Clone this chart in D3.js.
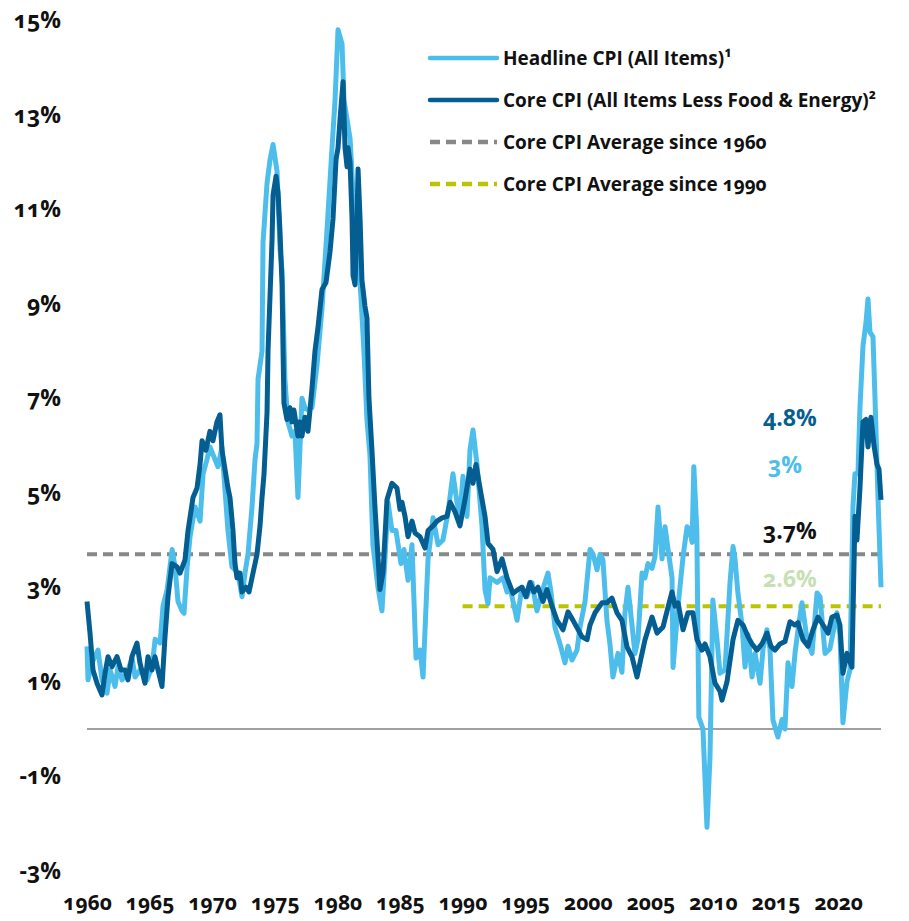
<!DOCTYPE html>
<html>
<head>
<meta charset="utf-8">
<script src="https://cdn.jsdelivr.net/npm/d3@7"></script>
<style>
  body { margin: 0; background: #fff; }
  svg text { font-family: "Open Sans", Lato, sans-serif; font-weight: bold; font-variant-numeric: oldstyle-nums; font-feature-settings: "onum" 1; }
</style>
</head>
<body>
<svg id="chart" width="909" height="921"></svg>
<script>
// Year-over-year CPI, [decimal year, percent]
const headline = [
  [1960.0, 1.75], [1960.08, 1.04], [1960.4, 1.4], [1960.88, 1.67], [1961.2, 1.04], [1961.6, 0.76],
  [1961.84, 1.25], [1962.24, 0.9], [1962.48, 1.32], [1962.8, 1.04], [1963.2, 1.18], [1963.6, 1.5],
  [1963.84, 1.1], [1964.24, 1.25], [1964.8, 1.04], [1965.2, 1.32], [1965.44, 1.9], [1965.84, 1.82],
  [1966.07, 2.6], [1966.4, 2.95], [1966.8, 3.8], [1967.03, 3.43], [1967.27, 2.7], [1967.59, 2.5],
  [1967.75, 2.45], [1967.99, 3.4], [1968.23, 4.07], [1968.63, 4.7], [1969.03, 4.4], [1969.27, 5.4],
  [1969.58, 5.7], [1969.82, 5.97], [1970.14, 5.76], [1970.46, 5.55], [1970.78, 5.97], [1971.02, 5.06],
  [1971.26, 4.2], [1971.58, 3.43], [1971.82, 3.37], [1972.06, 3.3], [1972.38, 2.8], [1972.62, 3.3],
  [1972.86, 3.7], [1973.18, 4.7], [1973.42, 5.7], [1973.58, 6.05], [1973.66, 7.4], [1973.98, 8.0],
  [1974.06, 10.3], [1974.38, 11.55], [1974.62, 12.05], [1974.86, 12.37], [1975.18, 11.8], [1975.42, 10.15],
  [1975.58, 9.7], [1975.81, 7.4], [1976.05, 6.5], [1976.37, 6.2], [1976.61, 6.3], [1976.85, 4.9],
  [1977.17, 7.0], [1977.41, 6.8], [1977.65, 6.75], [1977.97, 6.8], [1978.37, 7.7], [1978.77, 8.9],
  [1979.01, 9.9], [1979.25, 10.9], [1979.57, 12.3], [1979.81, 13.3], [1980.05, 14.8], [1980.37, 14.5],
  [1980.53, 13.3], [1980.77, 12.9], [1981.01, 12.5], [1981.25, 11.35], [1981.57, 10.4], [1981.88, 9.15],
  [1982.12, 8.0], [1982.36, 6.55], [1982.6, 5.8], [1982.84, 3.9], [1983.24, 3.0], [1983.56, 2.5],
  [1983.8, 3.6], [1984.04, 4.8], [1984.36, 4.2], [1984.68, 4.2], [1985.08, 3.5], [1985.32, 3.8],
  [1985.64, 3.15], [1985.96, 3.9], [1986.28, 1.5], [1986.6, 1.67], [1986.84, 1.1], [1987.24, 3.6],
  [1987.64, 4.47], [1988.04, 3.9], [1988.43, 4.0], [1988.83, 4.57], [1989.23, 5.4], [1989.55, 4.8],
  [1989.79, 4.5], [1990.03, 5.35], [1990.35, 4.5], [1990.59, 5.9], [1990.83, 6.33], [1991.15, 5.6],
  [1991.55, 4.3], [1991.79, 2.95], [1992.03, 2.65], [1992.19, 3.2], [1992.75, 3.1], [1993.23, 3.2],
  [1993.55, 2.9], [1993.79, 3.0], [1994.35, 2.3], [1994.74, 3.0], [1995.14, 2.8], [1995.54, 3.1],
  [1995.94, 2.5], [1996.34, 2.9], [1996.82, 3.3], [1997.06, 2.9], [1997.38, 2.15], [1997.78, 1.8],
  [1998.18, 1.4], [1998.42, 1.75], [1998.74, 1.46], [1999.14, 1.67], [1999.38, 2.16], [1999.78, 2.7],
  [2000.18, 3.8], [2000.42, 3.7], [2000.74, 3.37], [2000.98, 3.7], [2001.21, 3.58], [2001.53, 2.3],
  [2001.77, 1.8], [2002.01, 1.1], [2002.41, 1.6], [2002.73, 1.2], [2002.97, 2.46], [2003.21, 3.0],
  [2003.53, 2.2], [2003.77, 1.6], [2004.01, 1.9], [2004.33, 3.3], [2004.57, 3.2], [2004.81, 3.5],
  [2005.13, 3.4], [2005.37, 3.65], [2005.61, 4.7], [2005.93, 3.6], [2006.17, 4.28], [2006.41, 3.8],
  [2006.73, 3.2], [2006.81, 1.3], [2007.21, 2.6], [2007.61, 3.65], [2007.93, 4.28], [2008.15, 4.2],
  [2008.33, 3.95], [2008.47, 5.55], [2008.71, 4.2], [2008.87, 0.25], [2009.2, 0.0], [2009.52, -2.08],
  [2009.76, -0.6], [2009.99, 2.73], [2010.32, 1.9], [2010.56, 1.18], [2010.96, 1.25], [2011.36, 3.1],
  [2011.6, 3.86], [2011.76, 3.6], [2011.99, 2.88], [2012.32, 2.2], [2012.56, 1.31], [2012.8, 2.0],
  [2013.12, 1.1], [2013.36, 1.6], [2013.76, 0.97], [2014.0, 1.7], [2014.31, 2.1], [2014.55, 1.7],
  [2014.79, 0.19], [2015.19, -0.17], [2015.51, 0.2], [2015.75, 0.0], [2015.99, 1.4], [2016.31, 0.9],
  [2016.55, 1.6], [2016.79, 2.1], [2017.11, 2.67], [2017.51, 1.9], [2017.91, 1.6], [2018.31, 2.88],
  [2018.55, 2.8], [2018.95, 1.6], [2019.34, 1.7], [2019.9, 2.46], [2020.14, 2.0], [2020.38, 0.13],
  [2020.7, 1.0], [2020.94, 1.25], [2021.18, 4.7], [2021.34, 5.4], [2021.58, 5.4], [2021.74, 6.8],
  [2021.98, 8.1], [2022.22, 8.6], [2022.38, 9.1], [2022.54, 8.4], [2022.78, 8.3], [2022.94, 7.0],
  [2023.18, 4.9], [2023.42, 3.0]
];

const core = [
  [1960.0, 2.7], [1960.24, 2.03], [1960.48, 1.25], [1960.8, 0.97], [1961.2, 0.72], [1961.44, 1.18],
  [1961.68, 1.53], [1962.0, 1.32], [1962.4, 1.53], [1962.72, 1.25], [1963.04, 1.25], [1963.27, 1.04],
  [1963.59, 1.53], [1963.99, 1.82], [1964.23, 1.4], [1964.63, 0.97], [1964.87, 1.53], [1965.19, 1.25],
  [1965.43, 1.53], [1965.67, 1.25], [1965.99, 0.9], [1966.23, 1.95], [1966.47, 2.8], [1966.79, 3.5],
  [1967.19, 3.43], [1967.43, 3.3], [1967.83, 3.58], [1968.07, 4.2], [1968.47, 4.9], [1968.79, 5.1],
  [1969.03, 5.6], [1969.19, 6.1], [1969.5, 5.9], [1969.82, 6.3], [1970.06, 6.1], [1970.38, 6.5],
  [1970.62, 6.65], [1970.78, 5.9], [1971.26, 5.1], [1971.42, 4.9], [1971.66, 4.2], [1971.82, 3.5],
  [1971.98, 3.2], [1972.22, 3.3], [1972.38, 2.9], [1972.7, 3.0], [1972.94, 2.9], [1973.18, 3.2],
  [1973.58, 3.7], [1973.82, 4.3], [1973.98, 4.9], [1974.14, 5.4], [1974.38, 6.7], [1974.46, 8.0],
  [1974.78, 10.35], [1974.86, 11.3], [1975.1, 11.7], [1975.26, 11.35], [1975.42, 10.5], [1975.58, 9.4],
  [1975.66, 8.0], [1975.73, 6.9], [1975.97, 6.55], [1976.21, 6.8], [1976.37, 6.5], [1976.53, 6.75],
  [1976.85, 6.2], [1977.01, 6.5], [1977.17, 6.2], [1977.41, 6.6], [1977.65, 6.3], [1977.97, 7.2],
  [1978.21, 8.0], [1978.45, 8.5], [1978.77, 9.3], [1979.09, 9.45], [1979.41, 10.1], [1979.65, 10.8],
  [1979.89, 12.05], [1980.05, 12.3], [1980.21, 12.9], [1980.45, 13.7], [1980.61, 12.3], [1980.77, 11.9],
  [1980.85, 12.3], [1981.01, 12.0], [1981.17, 10.8], [1981.25, 9.6], [1981.41, 9.4], [1981.57, 10.8],
  [1981.65, 11.85], [1981.81, 10.8], [1981.96, 9.5], [1982.2, 8.95], [1982.36, 8.7], [1982.52, 7.0],
  [1982.76, 5.9], [1983.0, 4.7], [1983.4, 2.95], [1983.64, 3.3], [1983.96, 4.85], [1984.36, 5.2],
  [1984.76, 5.1], [1985.0, 4.65], [1985.16, 4.8], [1985.4, 4.5], [1985.64, 4.07], [1985.96, 4.4],
  [1986.2, 4.15], [1986.6, 4.07], [1987.0, 3.83], [1987.24, 4.2], [1987.64, 4.3], [1987.96, 4.4],
  [1988.36, 4.47], [1988.75, 4.5], [1989.0, 4.8], [1989.39, 4.6], [1989.79, 4.3], [1990.19, 4.85],
  [1990.59, 5.5], [1990.83, 5.2], [1991.07, 5.6], [1991.39, 5.1], [1991.79, 4.5], [1992.03, 3.93],
  [1992.43, 3.8], [1992.75, 3.33], [1993.15, 3.6], [1993.55, 3.2], [1994.03, 2.87], [1994.42, 2.95],
  [1994.74, 3.0], [1995.06, 2.8], [1995.38, 3.1], [1995.7, 2.9], [1996.02, 3.0], [1996.42, 2.7],
  [1996.74, 2.95], [1997.14, 2.6], [1997.54, 2.3], [1998.02, 2.1], [1998.42, 2.48], [1998.82, 2.3],
  [1999.54, 1.95], [1999.94, 1.89], [2000.18, 2.2], [2000.58, 2.46], [2001.13, 2.67], [2001.53, 2.67],
  [2001.93, 2.77], [2002.33, 2.46], [2002.73, 2.3], [2003.13, 1.74], [2003.53, 1.53], [2003.93, 1.1],
  [2004.25, 1.5], [2004.57, 1.89], [2005.13, 2.37], [2005.53, 2.03], [2006.01, 2.16], [2006.41, 2.58],
  [2006.73, 2.9], [2006.97, 2.6], [2007.21, 2.67], [2007.61, 2.1], [2008.0, 2.46], [2008.4, 2.46],
  [2008.72, 1.89], [2009.12, 1.67], [2009.36, 1.8], [2009.76, 1.53], [2010.16, 0.97], [2010.56, 0.8],
  [2010.72, 0.61], [2011.12, 1.0], [2011.6, 1.89], [2011.99, 2.3], [2012.4, 2.2], [2012.8, 1.95],
  [2013.12, 1.8], [2013.51, 1.67], [2013.91, 1.8], [2014.31, 2.03], [2014.63, 1.75], [2014.95, 1.67],
  [2015.35, 1.8], [2015.75, 1.85], [2016.15, 2.27], [2016.55, 2.2], [2016.79, 2.25], [2017.19, 1.89],
  [2017.59, 1.75], [2017.99, 2.1], [2018.39, 2.37], [2018.79, 2.2], [2019.19, 2.03], [2019.5, 2.37],
  [2019.9, 2.41], [2020.14, 2.2], [2020.38, 1.18], [2020.7, 1.6], [2021.1, 1.31], [2021.34, 4.5],
  [2021.5, 4.0], [2021.74, 5.1], [2021.98, 6.5], [2022.22, 6.55], [2022.38, 5.97], [2022.62, 6.6],
  [2022.86, 6.0], [2023.1, 5.6], [2023.26, 5.5], [2023.42, 4.85]
];

const avgSince1960 = 3.7;
const avgSince1990 = 2.6;
const yTicks = [-3, -1, 1, 3, 5, 7, 9, 11, 13, 15];
const xTicks = [1960, 1965, 1970, 1975, 1980, 1985, 1990, 1995, 2000, 2005, 2010, 2015, 2020];
const legendItems = [
  { label: "Headline CPI (All Items)¹", color: "#4dbeeb", dash: null },
  { label: "Core CPI (All Items Less Food & Energy)²", color: "#045e92", dash: null },
  { label: "Core CPI Average since 1960", color: "#888888", dash: "10,6" },
  { label: "Core CPI Average since 1990", color: "#bcc400", dash: "10,6" }
];
const endLabels = [
  { text: "4.8%", color: "#045e92", y: 418 },
  { text: "3%", color: "#4dbeeb", y: 465, dx: 5 },
  { text: "3.7%", color: "#111111", y: 531 },
  { text: "2.6%", color: "#c6e0b4", y: 579 }
];

const svg = d3.select("#chart");

const x = d3.scaleLinear().domain([1960, 2023.42]).range([87, 881]);
const y = d3.scaleLinear().domain([-3, 15]).range([870.75, 20.25]);

// Y axis labels
const yAxis = svg.append("g")
  .attr("transform", "translate(61,0)")
  .call(d3.axisLeft(y).tickValues(yTicks).tickSize(0).tickPadding(0).tickFormat(d => d + "%"));
yAxis.select(".domain").remove();
yAxis.attr("font-family", null);
yAxis.selectAll("text").attr("font-size", 23).attr("fill", "#111")
  .style("font-variant-numeric", "oldstyle-nums");

// X axis labels
const xAxis = svg.append("g")
  .attr("transform", "translate(0,895)")
  .call(d3.axisBottom(x).tickValues(xTicks).tickSize(0).tickPadding(0).tickFormat(d3.format("d")));
xAxis.select(".domain").remove();
xAxis.attr("font-family", null);
xAxis.selectAll("text").attr("font-size", 21).attr("fill", "#111")
  .style("font-variant-numeric", "oldstyle-nums");

// Zero line
svg.append("line")
  .attr("x1", x(1960)).attr("x2", x(2023.42))
  .attr("y1", y(0)).attr("y2", y(0))
  .attr("stroke", "#808080").attr("stroke-width", 1.5);

// Average lines
svg.append("line")
  .attr("x1", x(1960)).attr("x2", x(2023.42))
  .attr("y1", y(avgSince1960)).attr("y2", y(avgSince1960))
  .attr("stroke", "#888").attr("stroke-width", 4).attr("stroke-dasharray", "10,6");

svg.append("line")
  .attr("x1", x(1990)).attr("x2", x(2023.42))
  .attr("y1", y(avgSince1990)).attr("y2", y(avgSince1990))
  .attr("stroke", "#bcc400").attr("stroke-width", 4).attr("stroke-dasharray", "10,6");

// Series lines
const line = d3.line().x(d => x(d[0])).y(d => y(d[1]));

svg.append("path")
  .datum(headline)
  .attr("d", line)
  .attr("fill", "none")
  .attr("stroke", "#4dbeeb")
  .attr("stroke-width", 5)
  .attr("stroke-linejoin", "round");

svg.append("path")
  .datum(core)
  .attr("d", line)
  .attr("fill", "none")
  .attr("stroke", "#045e92")
  .attr("stroke-width", 5)
  .attr("stroke-linejoin", "round");

// Legend
const legend = svg.append("g").attr("transform", "translate(430,58)");
legendItems.forEach((item, i) => {
  const row = legend.append("g").attr("transform", `translate(0,${i * 42})`);
  row.append("line")
    .attr("x1", 0).attr("x2", 67)
    .attr("stroke", item.color)
    .attr("stroke-width", 4.5)
    .attr("stroke-linecap", item.dash ? "butt" : "round")
    .attr("stroke-dasharray", item.dash);
  row.append("text")
    .attr("x", 73).attr("dy", "0.35em")
    .attr("font-size", 19)
    .attr("fill", "#111")
    .text(item.label);
});

// End-value labels
endLabels.forEach(d => {
  svg.append("text")
    .attr("x", 763 + (d.dx || 0)).attr("y", d.y)
    .attr("dy", "0.35em")
    .attr("font-size", 23)
    .attr("fill", d.color)
    .text(d.text);
});
</script>
</body>
</html>
